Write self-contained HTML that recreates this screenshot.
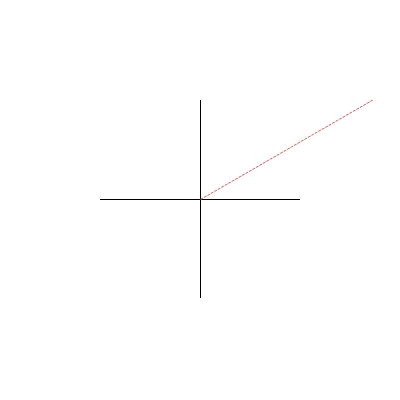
<!DOCTYPE html>
<html><head><meta charset="utf-8"><style>
html,body{margin:0;padding:0;background:#fff;width:400px;height:400px;overflow:hidden}
</style></head><body>
<svg id="chart" width="400" height="400" xmlns="http://www.w3.org/2000/svg">
<line x1="100" y1="199.5" x2="300" y2="199.5" stroke="#000" stroke-width="1"/>
<line x1="200.5" y1="100" x2="200.5" y2="298" stroke="#000" stroke-width="1"/>
</svg>
<script>
const vecX = [0, 1.732];
const vecY = [0, 1.0];
const cx = 200.5, cy = 199.5, unit = 100;
function sx(v){ return cx + v*unit; }
function sy(v){ return cy - v*unit; }
const svg = document.getElementById('chart');
const ln = document.createElementNS('http://www.w3.org/2000/svg','line');
ln.setAttribute('x1', sx(vecX[0])); ln.setAttribute('y1', sy(vecY[0]));
ln.setAttribute('x2', sx(vecX[1])); ln.setAttribute('y2', sy(vecY[1]));
ln.setAttribute('stroke', '#cc6666');
ln.setAttribute('stroke-width', '1');
ln.setAttribute('stroke-dasharray', '3,1');


svg.appendChild(ln);
</script>
</body></html>
